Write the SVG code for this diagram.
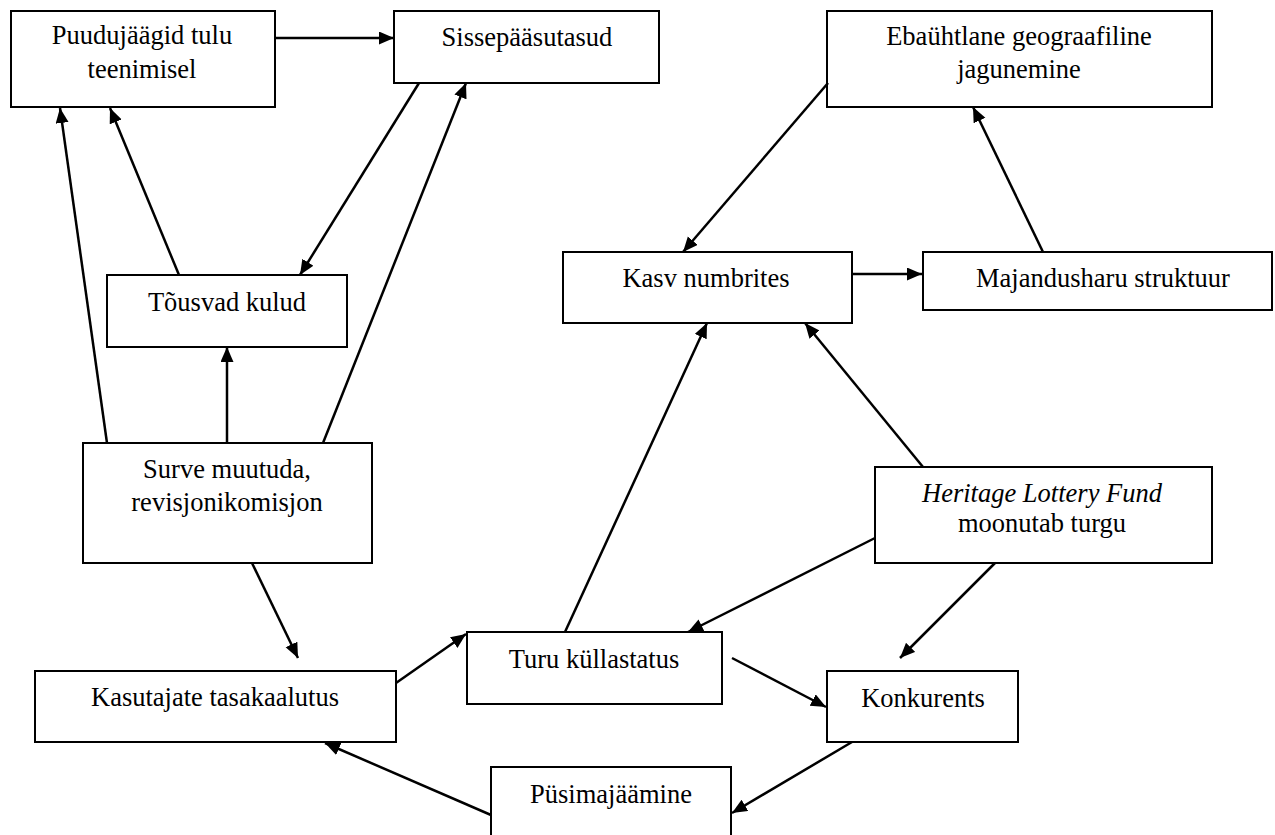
<svg xmlns="http://www.w3.org/2000/svg" width="1275" height="835" viewBox="0 0 1275 835">
<style>
.box{fill:#fff;stroke:#000;stroke-width:2}
.t{font-family:"Liberation Serif","Times New Roman",serif;font-size:26.5px;fill:#000;text-anchor:middle}
.c{stroke:#000;stroke-width:2.5;fill:none;marker-end:url(#ah)}
</style>
<defs>
<marker id="ah" markerUnits="userSpaceOnUse" markerWidth="16" markerHeight="14" refX="15" refY="6.5" orient="auto">
<path d="M0,0 L15,6.5 L0,13 z" fill="#000"/>
</marker>
</defs>
<rect width="1275" height="835" fill="#fff"/>
<g id="n-puudujaagid"><rect class="box" x="11" y="11" width="264" height="96"/><text class="t" x="142" y="44">Puudujäägid tulu</text><text class="t" x="142" y="78">teenimisel</text></g>
<g id="n-sissepaasutasud"><rect class="box" x="394" y="11" width="265" height="72"/><text class="t" x="527" y="46">Sissepääsutasud</text></g>
<g id="n-ebauhtlane"><rect class="box" x="827" y="11" width="385" height="96"/><text class="t" x="1019" y="45">Ebaühtlane geograafiline</text><text class="t" x="1019" y="78">jagunemine</text></g>
<g id="n-tousvad"><rect class="box" x="107" y="275" width="240" height="72"/><text class="t" x="227" y="311">Tõusvad kulud</text></g>
<g id="n-kasv"><rect class="box" x="563" y="252" width="289" height="71"/><text class="t" x="706" y="287">Kasv numbrites</text></g>
<g id="n-majandusharu"><rect class="box" x="923" y="252" width="349" height="58"/><text class="t" x="1103" y="287">Majandusharu struktuur</text></g>
<g id="n-surve"><rect class="box" x="83" y="443" width="289" height="120"/><text class="t" x="227" y="478">Surve muutuda,</text><text class="t" x="227" y="511">revisjonikomisjon</text></g>
<g id="n-hlf"><rect class="box" x="875" y="467" width="337" height="96"/><text class="t" x="1042" y="502"><tspan font-style="italic">Heritage Lottery Fund</tspan></text><text class="t" x="1042" y="532">moonutab turgu</text></g>
<g id="n-turu"><rect class="box" x="467" y="632" width="255" height="72"/><text class="t" x="594" y="668">Turu küllastatus</text></g>
<g id="n-kasutajate"><rect class="box" x="35" y="671" width="361" height="71"/><text class="t" x="215" y="706">Kasutajate tasakaalutus</text></g>
<g id="n-konkurents"><rect class="box" x="827" y="671" width="191" height="71"/><text class="t" x="923" y="707">Konkurents</text></g>
<g id="n-pusimajaamine"><rect class="box" x="491" y="767" width="240" height="80"/><text class="t" x="611" y="803">Püsimajäämine</text></g>
<g id="connectors">
<line class="c" x1="275" y1="38" x2="394" y2="38"/>
<line class="c" x1="419" y1="83" x2="300" y2="275"/>
<line class="c" x1="179" y1="275" x2="110" y2="108"/>
<line class="c" x1="107" y1="443" x2="60" y2="108"/>
<line class="c" x1="227" y1="443" x2="227" y2="347"/>
<line class="c" x1="323" y1="443" x2="466" y2="83"/>
<line class="c" x1="252" y1="563" x2="298" y2="658"/>
<line class="c" x1="396" y1="683" x2="466" y2="634"/>
<line class="c" x1="565" y1="632" x2="707" y2="323"/>
<line class="c" x1="923" y1="467" x2="805" y2="323"/>
<line class="c" x1="875" y1="538" x2="688" y2="632"/>
<line class="c" x1="995" y1="563" x2="900" y2="658"/>
<line class="c" x1="732" y1="658" x2="826" y2="707"/>
<line class="c" x1="852" y1="742" x2="732" y2="813"/>
<line class="c" x1="491" y1="815" x2="325" y2="743"/>
<line class="c" x1="828" y1="83" x2="683" y2="252"/>
<line class="c" x1="852" y1="274" x2="922" y2="274"/>
<line class="c" x1="1043" y1="252" x2="973" y2="107"/>
</g>
</svg>
